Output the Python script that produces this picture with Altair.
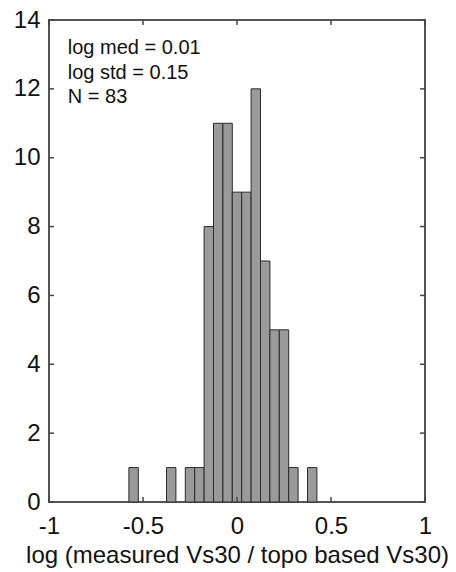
import altair as alt
import pandas as pd

# Histogram data (bin centers, counts), bin width 0.05
bin_centers = [-0.55, -0.35, -0.25, -0.20, -0.15, -0.10, -0.05, 0.00, 0.05, 0.10, 0.15, 0.20, 0.25, 0.30, 0.40]
counts = [1, 1, 1, 1, 8, 11, 11, 9, 9, 12, 7, 5, 5, 1, 1]
bin_width = 0.05

x_ticks = [-1, -0.5, 0, 0.5, 1]
y_ticks = [0, 2, 4, 6, 8, 10, 12, 14]

stat_lines = ["log med = 0.01", "log std = 0.15", "N = 83"]
stat_y = [13.0, 12.29, 11.58]
stat_x = -0.9

FONT = "Liberation Sans"
W, H = 376, 482

hist = pd.DataFrame({"center": bin_centers, "count": counts})
xt = pd.DataFrame({"v": x_ticks})
yt = pd.DataFrame({"v": y_ticks})
stats = pd.DataFrame({"label": stat_lines, "y": stat_y, "x": [stat_x] * 3})

xscale = alt.Scale(domain=[-1, 1], nice=False, zero=False)
yscale = alt.Scale(domain=[0, 14], nice=False)

bars = alt.Chart(hist).transform_calculate(
    x0=f"datum.center - {bin_width}/2", x1=f"datum.center + {bin_width}/2", base="0"
).mark_rect(fill="#9a9a9a", stroke="#2a2a2a", strokeWidth=1).encode(
    x=alt.X("x0:Q", scale=xscale,
            axis=alt.Axis(values=x_ticks, ticks=False, domain=False, grid=False,
                          labelFontSize=24, labelFont=FONT, labelColor="#111",
                          labelFlush=False, labelOverlap=False, labelPadding=12,
                          labelExpr="datum.value + ''",
                          title="log (measured Vs30 / topo based Vs30)",
                          titleFontSize=24, titleFont=FONT, titleFontWeight="normal",
                          titleColor="#111", titlePadding=5)),
    x2="x1:Q",
    y=alt.Y("count:Q", scale=yscale,
            axis=alt.Axis(values=y_ticks, ticks=False, domain=False, grid=False,
                          labelFontSize=24, labelFont=FONT, labelColor="#111",
                          labelPadding=9, title=None)),
    y2="base:Q",
)

tick_len = 5
bottom_ticks = alt.Chart(xt).mark_rule(color="#444", strokeWidth=1.5).encode(
    x=alt.X("v:Q", scale=xscale), y=alt.value(H), y2=alt.value(H - tick_len))
top_ticks = alt.Chart(xt).mark_rule(color="#444", strokeWidth=1.5).encode(
    x=alt.X("v:Q", scale=xscale), y=alt.value(0), y2=alt.value(tick_len))
left_ticks = alt.Chart(yt).mark_rule(color="#444", strokeWidth=1.5).encode(
    y=alt.Y("v:Q", scale=yscale), x=alt.value(0), x2=alt.value(tick_len))
right_ticks = alt.Chart(yt).mark_rule(color="#444", strokeWidth=1.5).encode(
    y=alt.Y("v:Q", scale=yscale), x=alt.value(W), x2=alt.value(W - tick_len))

text = alt.Chart(stats).mark_text(align="left", baseline="alphabetic", fontSize=20,
                                  font=FONT, color="#111").encode(
    x=alt.X("x:Q", scale=xscale), y=alt.Y("y:Q", scale=yscale), text="label:N")

chart = alt.layer(bars, bottom_ticks, top_ticks, left_ticks, right_ticks, text).properties(
    width=W, height=H,
    autosize=alt.AutoSizeParams(type="none"),
    padding={"left": 49, "top": 20, "right": 31, "bottom": 70},
    background="white",
).configure_view(stroke="#555", strokeWidth=2)

chart.save("out.html", embed_options={"renderer": "svg", "actions": False})
